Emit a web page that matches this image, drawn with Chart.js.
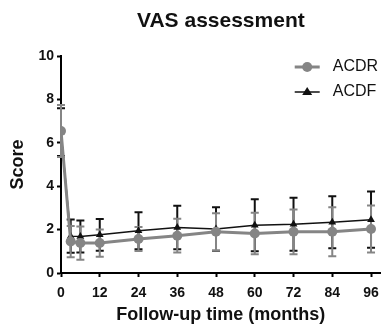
<!DOCTYPE html>
<html>
<head>
<meta charset="utf-8">
<script src="https://cdn.jsdelivr.net/npm/chart.js@4"></script>
<style>
  html, body { margin: 0; padding: 0; background: #fff; }
  #wrap { width: 387px; height: 326px; }
</style>
</head>
<body>
<div id="wrap"><canvas id="vas"></canvas></div>
<script>
'use strict';

var months = [0, 3, 6, 12, 24, 36, 48, 60, 72, 84, 96];
var acdrMean = [6.55, 1.45, 1.38, 1.38, 1.57, 1.72, 1.9, 1.82, 1.9, 1.9, 2.03];
var acdrSd   = [1.2, 0.72, 0.77, 0.63, 0.55, 0.78, 0.86, 0.96, 1.03, 1.13, 1.08];
var acdfMean = [6.5, 1.7, 1.68, 1.76, 1.95, 2.1, 2.03, 2.2, 2.25, 2.34, 2.46];
var acdfSd   = [1.1, 0.77, 0.74, 0.73, 0.85, 1.0, 1.0, 1.2, 1.22, 1.2, 1.3];
var xTicks = [0, 12, 24, 36, 48, 60, 72, 84, 96];
var yTicks = [0, 2, 4, 6, 8, 10];

var GREY = '#858585';
var BLACK = '#111111';
var FONT = '"Liberation Sans", Arial, Helvetica, sans-serif';

function toPoints(xs, ys) {
    var pts = [];
    for (var i = 0; i < xs.length; i++) {
        pts.push({x: xs[i], y: ys[i]});
    }
    return pts;
}

// error bars (mean +/- SD), drawn under the lines
var errorBars = {
    id: 'errorBars',
    beforeDatasetsDraw: function(chart) {
        var ctx = chart.ctx;
        var xs = chart.scales.x;
        var ys = chart.scales.y;
        // ACDF first so the grey ACDR bars sit on top
        for (var d = chart.data.datasets.length - 1; d >= 0; d--) {
            var ds = chart.data.datasets[d];
            ctx.save();
            ctx.strokeStyle = ds.borderColor;
            ctx.lineWidth = 2;
            for (var i = 0; i < ds.data.length; i++) {
                var px = xs.getPixelForValue(ds.data[i].x);
                var top = ys.getPixelForValue(ds.data[i].y + ds.sd[i]);
                var bot = ys.getPixelForValue(Math.max(0, ds.data[i].y - ds.sd[i]));
                ctx.beginPath();
                ctx.moveTo(px, top); ctx.lineTo(px, bot);
                ctx.moveTo(px - 4, top); ctx.lineTo(px + 4, top);
                ctx.moveTo(px - 4, bot); ctx.lineTo(px + 4, bot);
                ctx.stroke();
            }
            ctx.restore();
        }
    }
};

// legend drawn inside the plot, top right like the original
var insideLegend = {
    id: 'insideLegend',
    afterDraw: function(chart) {
        var ctx = chart.ctx;
        var right = chart.chartArea.right;
        var rows = [67, 92];
        ctx.save();
        chart.data.datasets.forEach(function(ds, i) {
            var y = rows[i];
            var x0 = right - 86, x1 = right - 61, cx = (x0 + x1) / 2;
            ctx.strokeStyle = ds.borderColor;
            ctx.fillStyle = ds.borderColor;
            ctx.lineWidth = ds.borderWidth;
            ctx.beginPath();
            ctx.moveTo(x0, y); ctx.lineTo(x1, y);
            ctx.stroke();
            if (ds.pointStyle === 'triangle') {
                ctx.beginPath();
                ctx.moveTo(cx, y - 5); ctx.lineTo(cx + 5, y + 3); ctx.lineTo(cx - 5, y + 3);
                ctx.closePath();
                ctx.fill();
            } else {
                ctx.beginPath();
                ctx.arc(cx, y, 5, 0, Math.PI * 2);
                ctx.fill();
            }
            ctx.fillStyle = '#111';
            ctx.font = '16px ' + FONT;
            ctx.textBaseline = 'middle';
            ctx.textAlign = 'left';
            ctx.fillText(ds.label, right - 48, y);
        });
        ctx.restore();
    }
};

var ctx = document.getElementById('vas').getContext('2d');

var chart = new Chart(ctx, {
    type: 'line',
    data: {
        datasets: [
            {
                label: 'ACDR',
                data: toPoints(months, acdrMean),
                sd: acdrSd,
                borderColor: GREY,
                backgroundColor: GREY,
                borderWidth: 3,
                pointStyle: 'circle',
                pointRadius: 5,
                pointBorderWidth: 0,
                tension: 0
            },
            {
                label: 'ACDF',
                data: toPoints(months, acdfMean),
                sd: acdfSd,
                borderColor: BLACK,
                backgroundColor: BLACK,
                borderWidth: 1.5,
                pointStyle: 'triangle',
                pointRadius: 4.5,
                pointBorderWidth: 0,
                tension: 0
            }
        ]
    },
    options: {
        responsive: true,
        maintainAspectRatio: false,
        animation: false,
        layout: { padding: { top: 0, right: 4, left: 0, bottom: 0 } },
        plugins: {
            legend: { display: false },
            tooltip: { enabled: false },
            title: {
                display: true,
                text: 'VAS assessment',
                fullSize: false,
                color: '#111',
                font: { family: FONT, size: 21, weight: 'bold' },
                padding: { top: 9, bottom: 22 }
            }
        },
        scales: {
            x: {
                type: 'linear',
                min: 0,
                max: 99,
                afterFit: function(s) { s.height = 53; },
                afterBuildTicks: function(s) {
                    s.ticks = xTicks.map(function(v) { return {value: v}; });
                },
                border: { display: true, color: '#000', width: 2 },
                grid: { display: true, drawOnChartArea: false, tickLength: 4, tickColor: '#000', tickWidth: 2 },
                ticks: {
                    color: '#111',
                    padding: 8,
                    maxRotation: 0,
                    font: { family: FONT, size: 14, weight: 'bold' }
                },
                title: {
                    display: true,
                    text: 'Follow-up time (months)',
                    color: '#111',
                    font: { family: FONT, size: 18, weight: 'bold' },
                    padding: { top: 0, bottom: 0 }
                }
            },
            y: {
                min: 0,
                max: 10,
                afterFit: function(s) { s.width = 61; },
                afterBuildTicks: function(s) {
                    s.ticks = yTicks.map(function(v) { return {value: v}; });
                },
                border: { display: true, color: '#000', width: 2 },
                grid: { display: true, drawOnChartArea: false, tickLength: 4, tickColor: '#000', tickWidth: 2 },
                ticks: {
                    color: '#111',
                    padding: 3,
                    font: { family: FONT, size: 14, weight: 'bold' }
                },
                title: {
                    display: true,
                    text: 'Score',
                    color: '#111',
                    font: { family: FONT, size: 18, weight: 'bold' },
                    padding: { top: 7, bottom: 0 }
                }
            }
        }
    },
    plugins: [errorBars, insideLegend]
});
</script>
</body>
</html>
